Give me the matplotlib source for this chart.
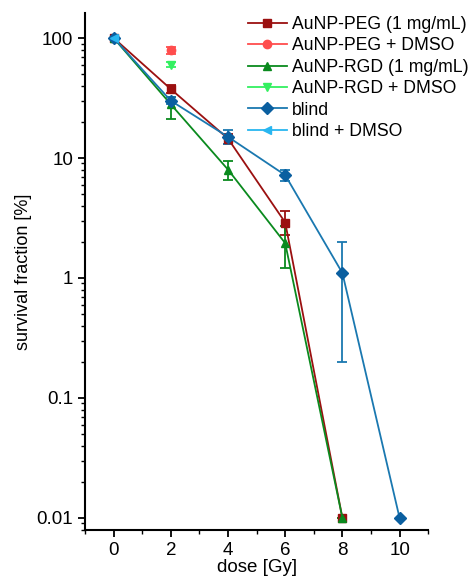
import numpy as np
import matplotlib
matplotlib.use('Agg')
from matplotlib import pyplot as plt
from matplotlib.ticker import FixedLocator, NullFormatter, LogLocator

plt.rcParams['font.family'] = ['Liberation Sans', 'DejaVu Sans']

# data
peg_x = [0, 2, 4, 6, 8]
peg_y = [100, 37.5, 14.5, 2.9, 0.01]
peg_lo = [0, 3, 1.5, 0.6, 0]
peg_hi = [0, 3, 1.5, 0.7, 0]

peg_dmso_x = [2]
peg_dmso_y = [79]
peg_dmso_err = [5]

rgd_x = [0, 2, 4, 6, 8]
rgd_y = [100, 28, 8.0, 1.95, 0.01]
rgd_lo = [0, 7, 1.5, 0.75, 0]
rgd_hi = [0, 4, 1.5, 0.75, 0]

rgd_dmso_x = [2]
rgd_dmso_y = [60]
rgd_dmso_err = [3]

blind_x = [0, 2, 4, 6, 8, 10]
blind_y = [100, 30, 15, 7.2, 1.1, 0.01]
blind_lo = [0, 2, 2, 0.8, 0.9, 0]
blind_hi = [0, 2, 2, 0.8, 0.9, 0]

blind_dmso_x = [0]
blind_dmso_y = [100]

fig = plt.figure(figsize=(4.7, 5.83), dpi=100)
ax = fig.add_axes([0.181, 0.091, 0.73, 0.887])

kw = dict(capsize=3.5, lw=1.3, ms=6, elinewidth=1.3, capthick=1.3)
ax.errorbar(peg_x, peg_y, yerr=[peg_lo, peg_hi], color='#9b1010', marker='s',
            label='AuNP-PEG (1 mg/mL)', **kw)
ax.errorbar(peg_dmso_x, peg_dmso_y, yerr=peg_dmso_err, color='#ff4d4d', marker='o',
            label='AuNP-PEG + DMSO', **kw)
ax.errorbar(rgd_x, rgd_y, yerr=[rgd_lo, rgd_hi], color='#0a8a1e', marker='^',
            label='AuNP-RGD (1 mg/mL)', **kw)
ax.errorbar(rgd_dmso_x, rgd_dmso_y, yerr=rgd_dmso_err, color='#33f060', marker='v',
            label='AuNP-RGD + DMSO', **kw)
ax.errorbar(blind_x, blind_y, yerr=[blind_lo, blind_hi], color='#1a78b0', marker='D',
            mfc='#0a5fa0', mec='#0a5fa0', label='blind', **kw)
ax.errorbar(blind_dmso_x, blind_dmso_y, color='#29b6f0', marker='<',
            label='blind + DMSO', **kw)

ax.set_yscale('log')
ax.set_xlim(-1, 11)
ax.set_ylim(10 ** -2.1, 10 ** 2.21)
ax.set_xticks([0, 2, 4, 6, 8, 10])
ax.xaxis.set_minor_locator(FixedLocator([-1, 1, 3, 5, 7, 9, 11]))
ax.set_yticks([0.01, 0.1, 1, 10, 100])
ax.set_yticklabels(['0.01', '0.1', '1', '10', '100'])
ax.yaxis.set_minor_locator(LogLocator(base=10, subs=np.arange(2, 10)))
ax.yaxis.set_minor_formatter(NullFormatter())

for s in ['top', 'right']:
    ax.spines[s].set_visible(False)
for s in ['left', 'bottom']:
    ax.spines[s].set_linewidth(1.5)
ax.tick_params(which='major', direction='out', length=5, width=1.3, labelsize=13.5)
ax.tick_params(which='minor', direction='out', length=3, width=1.0)

ax.set_xlabel('dose [Gy]', fontsize=13.5, labelpad=0)
ax.set_ylabel('survival fraction [%]', fontsize=13, labelpad=3)

handles, labels = ax.get_legend_handles_labels()
handles = [h[0] for h in handles]
ax.legend(handles, labels, loc='upper left', bbox_to_anchor=(248 / 470, 1 - 16 / 583),
          bbox_transform=fig.transFigure, frameon=False, fontsize=12.7,
          handlelength=2.2, handletextpad=0.3, labelspacing=0.25,
          borderaxespad=0, borderpad=0)

fig.savefig('out.png', dpi=100)
